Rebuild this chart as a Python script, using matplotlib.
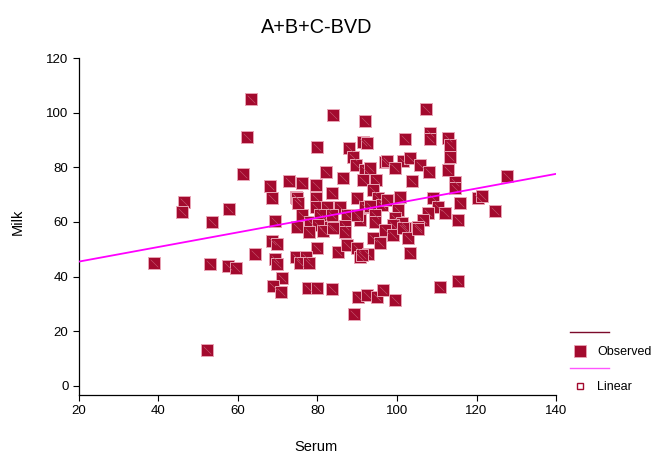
import matplotlib.pyplot as plt
from matplotlib.lines import Line2D
from matplotlib.path import Path

plt.rcParams['font.family'] = ['Liberation Sans', 'DejaVu Sans']

serum = [38.9, 46.4, 45.9, 53.5, 57.7, 61.3, 62.3, 63.3, 64.3, 53.0, 57.5, 59.5, 52.2,
         68.0, 68.6, 72.8, 74.6, 69.3, 68.6, 69.8, 69.3, 69.8, 71.1, 68.8, 70.8, 74.6,
         83.9, 91.9, 79.9, 87.9, 91.4, 92.5, 82.1, 88.9, 89.7, 86.4, 76.1, 79.6, 74.8,
         75.1, 83.6, 79.6, 79.6, 82.4, 85.7, 89.9, 92.0, 76.1, 78.1, 81.9, 87.4, 90.7,
         74.8, 83.1, 86.9, 92.0, 93.2, 96.9, 91.4, 94.7, 94.0, 95.2, 93.2, 96.2, 80.6,
         83.6, 89.9, 94.5, 94.5, 80.1,
         107.3, 102.0, 108.3, 108.3, 112.8, 113.3, 113.3, 112.8, 97.5, 101.5, 103.3,
         105.8, 108.1, 99.5, 103.8, 114.6, 114.6, 115.8, 120.4, 97.5, 100.8, 100.3,
         109.1, 110.3, 112.1, 107.8, 106.5, 105.3, 115.3, 99.5, 101.3, 99.0, 102.0,
         127.7, 121.4, 124.7,
         77.9, 81.4, 83.9, 86.9, 94.0, 95.7, 79.9, 85.2, 87.4, 89.9, 90.7, 92.7, 77.1,
         75.6, 77.9, 77.6, 79.9, 83.6, 90.2, 92.5, 95.0, 96.5, 89.2, 97.0, 99.0, 101.5,
         102.8, 105.3, 103.3, 110.8, 115.3, 99.5, 91.2]
milk = [45.0, 67.3, 63.7, 60.0, 64.8, 77.6, 91.1, 105.0, 48.3, 44.6, 43.9, 43.2, 13.0,
        73.2, 68.8, 75.0, 69.2, 60.4, 53.1, 52.0, 46.5, 44.6, 39.5, 36.6, 34.4, 47.2,
        99.2, 97.0, 87.4, 87.1, 89.3, 88.9, 78.3, 83.8, 80.9, 76.1, 74.3, 73.5, 68.8,
        67.0, 70.6, 68.8, 65.5, 65.5, 65.5, 68.8, 65.5, 62.6, 60.0, 61.5, 62.6, 60.7,
        58.2, 58.2, 58.5, 79.0, 79.8, 82.0, 75.4, 75.4, 71.7, 68.8, 65.9, 66.2, 62.6,
        62.6, 62.6, 62.6, 60.0, 58.9,
        101.4, 90.4, 92.6, 90.4, 90.7, 88.2, 83.8, 79.0, 82.3, 82.3, 83.4,
        80.9, 78.3, 79.8, 75.0, 74.6, 72.4, 67.0, 68.8, 68.1, 69.2, 64.4,
        68.8, 65.5, 63.3, 63.3, 60.7, 58.2, 60.7, 61.5, 59.6, 58.9, 57.8,
        76.8, 69.5, 64.0,
        56.3, 56.7, 57.8, 56.3, 54.2, 52.3, 50.5, 49.0, 51.6, 50.5, 47.2, 48.3, 47.2,
        45.0, 45.0, 35.9, 35.9, 35.5, 32.6, 33.3, 32.6, 35.1, 26.3, 57.1, 55.3, 57.8,
        54.2, 57.4, 48.7, 36.2, 38.4, 31.5, 47.9]

# linear fit as drawn on the chart
fit_intercept = 40.15
fit_slope = 0.2675
fit_x = [20, 140]

x_ticks = [20, 40, 60, 80, 100, 120, 140]
y_ticks = [0, 20, 40, 60, 80, 100, 120]

marker_red = '#a30a2e'
edge_pink = '#e8a3b4'

fig = plt.figure(figsize=(6.58, 4.55), dpi=100)
ax = fig.add_axes([0.12, 0.132, 0.725, 0.7405])

ax.scatter(serum, milk, marker='s', s=78, c=marker_red, edgecolors=edge_pink,
           linewidths=0.7, zorder=3)
# thin diagonal stroke inside each marker
diag = Path([(-1, 1), (1, -1)], [Path.MOVETO, Path.LINETO])
ax.scatter(serum, milk, marker=diag, s=30, c='#c85a74', linewidths=0.4, zorder=4)

fit_y = [fit_intercept + fit_slope * v for v in fit_x]
ax.plot(fit_x, fit_y, color='#ff00ff', lw=1.3, zorder=5)

ax.set_xlim(20, 140)
ax.set_ylim(-3.3, 120)
ax.set_xticks(x_ticks)
ax.set_yticks(y_ticks)
ax.tick_params(labelsize=9.5, length=4, width=0.8, direction='out')
for side in ['top', 'right']:
    ax.spines[side].set_visible(False)
for side in ['left', 'bottom']:
    ax.spines[side].set_linewidth(0.9)

fig.text(0.482, 0.94, 'A+B+C-BVD', ha='center', va='center', fontsize=14.3)
fig.text(0.48, 0.018, 'Serum', ha='center', va='center', fontsize=10.5)
fig.text(0.027, 0.512, 'Milk', ha='center', va='center', rotation=90, fontsize=10.5)

# legend drawn by hand, SPSS style
fig.add_artist(Line2D([0.866, 0.926], [0.27, 0.27], color='#7b0a2a', lw=1,
                      transform=fig.transFigure))
fig.add_artist(Line2D([0.882], [0.228], marker='s', ms=8, color=marker_red,
                      mec=edge_pink, mew=0.6, transform=fig.transFigure))
fig.text(0.908, 0.226, 'Observed', fontsize=9, va='center', ha='left')
fig.add_artist(Line2D([0.866, 0.926], [0.191, 0.191], color='#ff55ff', lw=1,
                      transform=fig.transFigure))
fig.add_artist(Line2D([0.882], [0.152], marker='s', ms=4, mfc='white',
                      mec=marker_red, mew=1, transform=fig.transFigure))
fig.text(0.908, 0.15, 'Linear', fontsize=9, va='center', ha='left')

fig.savefig('out.png', dpi=100)
